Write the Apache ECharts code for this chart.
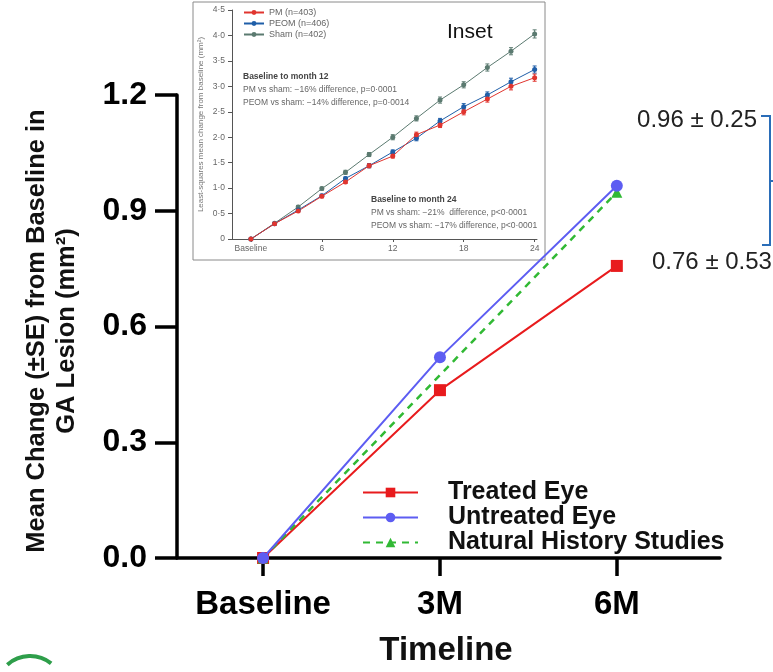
<!DOCTYPE html>
<html>
<head>
<meta charset="utf-8">
<script src="https://cdn.jsdelivr.net/npm/echarts@6/dist/echarts.min.js"></script>
<style>
  html, body { margin: 0; padding: 0; background: #fff; }
  #chart { width: 773px; height: 672px; }
</style>
</head>
<body>
<div id="chart"></div>
<script>
// main chart data
const mainCategories = ['Baseline', '3M', '6M'];
const mainMonths = [0, 3, 6];
const treatedEye = [0, 0.435, 0.757];
const untreatedEye = [0, 0.52, 0.965];
const naturalHistory = [0, null, 0.948];   // only baseline and 6M plotted

// inset (least-squares mean change) data
const insetMonths = [0, 2, 4, 6, 8, 10, 12, 14, 16, 18, 20, 22, 24];
const insetTicks = [0, 6, 12, 18, 24];
const insetTickLabels = ['Baseline', '6', '12', '18', '24'];
const pmMean   = [0, 0.30, 0.55, 0.84, 1.12, 1.44, 1.63, 2.05, 2.24, 2.50, 2.75, 3.00, 3.17];
const peomMean = [0, 0.30, 0.57, 0.85, 1.19, 1.44, 1.71, 1.98, 2.32, 2.60, 2.83, 3.09, 3.33];
const shamMean = [0, 0.31, 0.63, 0.99, 1.31, 1.66, 2.00, 2.37, 2.73, 3.03, 3.37, 3.69, 4.03];
const pmSE     = [0, 0.02, 0.02, 0.03, 0.03, 0.04, 0.04, 0.05, 0.05, 0.06, 0.06, 0.07, 0.07];
const peomSE   = [0, 0.02, 0.02, 0.03, 0.03, 0.04, 0.04, 0.05, 0.05, 0.06, 0.06, 0.07, 0.07];
const shamSE   = [0, 0.02, 0.03, 0.03, 0.04, 0.04, 0.05, 0.05, 0.06, 0.06, 0.07, 0.07, 0.08];

const FONT = '"Liberation Sans", Arial, sans-serif';
const RED = '#e81b1d', BLUE = '#5d5df2', GREEN = '#31b934';
const PM_C = '#e0352f', PEOM_C = '#1f5ea8', SHAM_C = '#5b7a70';

function pairs(xs, ys) {
    return xs.map((x, i) => [x, ys[i]]);
}

function errorSeries(name, means, ses, color) {
    return {
        type: 'custom', name: name + ' SE', xAxisIndex: 1, yAxisIndex: 1, z: 3,
        data: insetMonths.map((m, i) => [m, means[i], ses[i]]),
        renderItem: (params, api) => {
            const x = api.value(0), y = api.value(1), e = api.value(2);
            const lo = api.coord([x, y - e]), hi = api.coord([x, y + e]);
            const st = { stroke: color, lineWidth: 1 };
            return { type: 'group', children: [
                { type: 'line', shape: { x1: lo[0], y1: lo[1], x2: hi[0], y2: hi[1] }, style: st },
                { type: 'line', shape: { x1: lo[0] - 2, y1: lo[1], x2: lo[0] + 2, y2: lo[1] }, style: st },
                { type: 'line', shape: { x1: hi[0] - 2, y1: hi[1], x2: hi[0] + 2, y2: hi[1] }, style: st }
            ] };
        }
    };
}

function insetLine(name, means, color) {
    return {
        type: 'line', name: name, xAxisIndex: 1, yAxisIndex: 1, z: 4,
        data: pairs(insetMonths, means),
        symbol: 'circle', symbolSize: 5,
        lineStyle: { color: color, width: 1 },
        itemStyle: { color: color }
    };
}

const chart = echarts.init(document.getElementById('chart'));

const smallTxt = (x, y, text, bold) => ({
    type: 'text', x: x, y: y, z: 20,
    style: { text: text, fontFamily: FONT, fontSize: 8.5, fontWeight: bold ? 'bold' : 'normal',
             fill: bold ? '#444' : '#666', textVerticalAlign: 'middle' }
});

chart.setOption({
    animation: false,
    textStyle: { fontFamily: FONT },
    grid: [
        { left: 177, right: 53, top: 95, bottom: 114 },
        { left: 232, right: 236, top: 10, bottom: 433 }
    ],
    xAxis: [
        {
            type: 'value', gridIndex: 0, min: -1.46, max: 7.75,
            splitLine: { show: false },
            axisLine: { lineStyle: { color: '#000', width: 3.5 } },
            axisTick: { show: true, length: 18, customValues: mainMonths, lineStyle: { color: '#000', width: 3.5 } },
            axisLabel: {
                customValues: mainMonths, margin: 30,
                formatter: v => mainCategories[mainMonths.indexOf(v)] || '',
                color: '#000', fontSize: 33, fontWeight: 'bold', fontFamily: FONT
            }
        },
        {
            type: 'value', gridIndex: 1, min: -1.6, max: 24.2,
            splitLine: { show: false },
            axisLine: { lineStyle: { color: '#555', width: 1 } },
            axisTick: { show: true, length: 3, customValues: insetTicks, lineStyle: { color: '#555' } },
            axisLabel: {
                customValues: insetTicks, margin: 5,
                formatter: v => insetTickLabels[insetTicks.indexOf(v)] || '',
                color: '#666', fontSize: 8.5, fontFamily: FONT
            }
        }
    ],
    yAxis: [
        {
            type: 'value', gridIndex: 0, min: 0, max: 1.2, interval: 0.3,
            splitLine: { show: false },
            axisLine: { show: true, onZero: false, lineStyle: { color: '#000', width: 3.5 } },
            axisTick: { show: true, length: 22, lineStyle: { color: '#000', width: 3.5 } },
            axisLabel: {
                margin: 30, formatter: v => v.toFixed(1),
                color: '#000', fontSize: 32, fontWeight: 'bold', fontFamily: FONT
            }
        },
        {
            type: 'value', gridIndex: 1, min: 0, max: 4.5, interval: 0.5,
            splitLine: { show: false },
            axisLine: { show: true, onZero: false, lineStyle: { color: '#555', width: 1 } },
            axisTick: { show: true, length: 4, lineStyle: { color: '#555' } },
            axisLabel: {
                margin: 7, formatter: v => v === 0 ? '0' : v.toFixed(1).replace('.', '·'),
                color: '#666', fontSize: 8.5, fontFamily: FONT
            },
            name: 'Least-squares mean change from baseline (mm²)',
            nameLocation: 'middle', nameGap: 27, nameRotate: 90,
            nameTextStyle: { color: '#777', fontSize: 8, fontFamily: FONT }
        }
    ],
    legend: [
        {
            data: ['Treated Eye', 'Untreated Eye', 'Natural History Studies'],
            orient: 'vertical', left: 357, top: 475,
            itemWidth: 55, itemHeight: 12, itemGap: 0,
            textStyle: { fontSize: 25, fontWeight: 'bold', color: '#111', lineHeight: 25,
                         padding: [0, 0, 0, 25], fontFamily: FONT }
        },
        {
            data: ['PM (n=403)', 'PEOM (n=406)', 'Sham (n=402)'],
            orient: 'vertical', left: 238, top: 3,
            itemWidth: 20, itemHeight: 6, itemGap: 2,
            textStyle: { fontSize: 9, color: '#666', fontFamily: FONT }
        }
    ],
    graphic: [
        { type: 'rect', z: -10, shape: { x: 193, y: 2, width: 352, height: 258 },
          style: { fill: '#fff', stroke: '#8a8a8a', lineWidth: 1 } },
        { type: 'text', x: 447, y: 32, z: 20,
          style: { text: 'Inset', fontFamily: FONT, fontSize: 21, fill: '#111', textVerticalAlign: 'middle' } },
        smallTxt(243, 77, 'Baseline to month 12', true),
        smallTxt(243, 90, 'PM vs sham: \u221216% difference, p=0·0001'),
        smallTxt(243, 103, 'PEOM vs sham: \u221214% difference, p=0·0014'),
        smallTxt(371, 200, 'Baseline to month 24', true),
        smallTxt(371, 213, 'PM vs sham: \u221221%  difference, p<0·0001'),
        smallTxt(371, 226, 'PEOM vs sham: \u221217% difference, p<0·0001'),
        // main y-axis title
        { type: 'text', x: 52, y: 331, rotation: Math.PI / 2, z: 20,
          style: { text: 'Mean Change (±SE) from Baseline in\nGA Lesion (mm²)', fontFamily: FONT,
                   fontSize: 25.5, fontWeight: 'bold', fill: '#111', lineHeight: 30,
                   textAlign: 'center', textVerticalAlign: 'middle' } },
        // x-axis title
        { type: 'text', x: 446, y: 651, z: 20,
          style: { text: 'Timeline', fontFamily: FONT, fontSize: 33, fontWeight: 'bold', fill: '#111',
                   textAlign: 'center', textVerticalAlign: 'middle' } },
        // end-point annotations
        { type: 'text', x: 757, y: 120, z: 20,
          style: { text: '0.96 ± 0.25', fontFamily: FONT, fontSize: 24, fill: '#222',
                   textAlign: 'right', textVerticalAlign: 'middle' } },
        { type: 'text', x: 652, y: 262, z: 20,
          style: { text: '0.76 ± 0.53', fontFamily: FONT, fontSize: 24, fill: '#222',
                   textAlign: 'left', textVerticalAlign: 'middle' } },
        { type: 'polyline', z: 20, shape: { points: [[761, 116], [770, 116], [770, 245], [762, 245]] },
          style: { stroke: '#2a6db8', lineWidth: 2, fill: null } },
        { type: 'line', z: 20, shape: { x1: 770, y1: 181, x2: 773, y2: 181 },
          style: { stroke: '#2a6db8', lineWidth: 2 } },
        // logo fragment
        { type: 'arc', z: 20, shape: { cx: 30, cy: 690, r: 34, startAngle: -2.3, endAngle: -0.9 },
          style: { stroke: '#2e9e4a', lineWidth: 4, fill: null } }
    ],
    series: [
        {
            name: 'Treated Eye', type: 'line', xAxisIndex: 0, yAxisIndex: 0, z: 5,
            data: pairs(mainMonths, treatedEye),
            symbol: 'rect', symbolSize: 12,
            lineStyle: { color: RED, width: 2 }, itemStyle: { color: RED }
        },
        {
            name: 'Natural History Studies', type: 'line', xAxisIndex: 0, yAxisIndex: 0, z: 5,
            data: pairs(mainMonths, naturalHistory), connectNulls: true,
            symbol: 'triangle', symbolSize: 11,
            lineStyle: { color: GREEN, width: 2.5, type: [7, 6] }, itemStyle: { color: GREEN }
        },
        {
            name: 'Untreated Eye', type: 'line', xAxisIndex: 0, yAxisIndex: 0, z: 6,
            data: pairs(mainMonths, untreatedEye),
            symbol: 'circle', symbolSize: 12,
            lineStyle: { color: BLUE, width: 2 }, itemStyle: { color: BLUE }
        },
        errorSeries('Sham', shamMean, shamSE, SHAM_C),
        errorSeries('PEOM', peomMean, peomSE, PEOM_C),
        errorSeries('PM', pmMean, pmSE, PM_C),
        insetLine('Sham (n=402)', shamMean, SHAM_C),
        insetLine('PEOM (n=406)', peomMean, PEOM_C),
        insetLine('PM (n=403)', pmMean, PM_C)
    ]
});
</script>
</body>
</html>
